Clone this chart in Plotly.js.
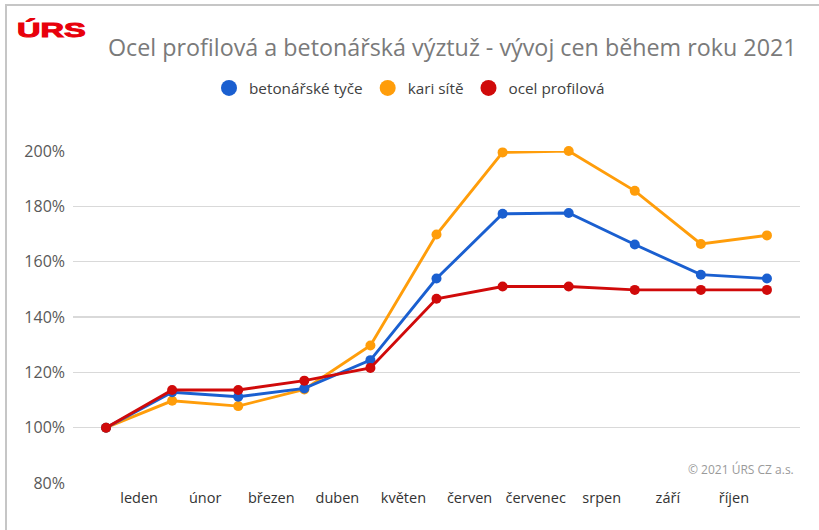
<!DOCTYPE html>
<html>
<head>
<meta charset="utf-8">
<script src="https://cdn.plot.ly/plotly-3.0.1.min.js"></script>
<style>
html,body{margin:0;padding:0;background:#fff;}
#wrap{position:relative;width:819px;height:530px;overflow:hidden;background:#fff;}
#frame{position:absolute;left:5px;top:4px;width:830px;height:540px;border-left:2px solid #c6c6c6;border-top:2px solid #c6c6c6;}
#chart{position:absolute;left:0;top:0;width:819px;height:530px;}
#logo{position:absolute;left:17px;top:18px;font-family:"Liberation Sans",Arial,sans-serif;font-weight:bold;font-size:21px;line-height:24px;color:#e8000b;transform-origin:0 0;transform:scaleX(1.55);z-index:2;-webkit-text-stroke:1px #e8000b;}
</style>
</head>
<body>
<div id="wrap"><div id="frame"></div><div id="chart"></div><div id="logo">ÚRS</div></div>
<script>
// point positions (month boundaries) and month labels
const points = [0, 1, 2, 3, 4, 5, 6, 7, 8, 9, 10];
const months = ["leden", "únor", "březen", "duben", "květen", "červen", "červenec", "srpen", "září", "říjen"];
const monthPos = [0.5, 1.5, 2.5, 3.5, 4.5, 5.5, 6.5, 7.5, 8.5, 9.5];

const seriesNames = ["betonářské tyče", "kari sítě", "ocel profilová"];
const betonarskeTyce = [100, 112.8, 111.2, 114.2, 124.4, 153.9, 177.3, 177.6, 166.2, 155.3, 153.9];
const kariSite      = [100, 109.7, 107.8, 113.8, 129.7, 169.8, 199.5, 200.0, 185.6, 166.4, 169.5];
const ocelProfilova = [100, 113.6, 113.6, 117.0, 121.6, 146.6, 151.0, 151.0, 149.8, 149.8, 149.8];

const yTicks = [80, 100, 120, 140, 160, 180, 200];
const yTickText = ["80%", "100%", "120%", "140%", "160%", "180%", "200%"];

const colors = ["#1a5fd0", "#ff9d0a", "#d00a0a"];
const seriesData = [betonarskeTyce, kariSite, ocelProfilova];

const traces = [];
// draw in order: orange, blue, red (red on top)
[1, 0, 2].forEach(i => {
  traces.push({
    x: points, y: seriesData[i], type: "scatter", mode: "lines+markers",
    name: seriesNames[i], showlegend: false,
    line: {color: colors[i], width: 2.9},
    marker: {color: colors[i], size: 10},
    cliponaxis: false, hoverinfo: "skip"
  });
});
// legend entries (circle only)
[0, 1, 2].forEach(i => {
  traces.push({
    x: [null], y: [null], type: "scatter", mode: "markers",
    name: seriesNames[i], showlegend: true,
    marker: {color: colors[i], size: 16}
  });
});

const layout = {
  width: 819, height: 530,
  paper_bgcolor: "rgba(0,0,0,0)", plot_bgcolor: "rgba(0,0,0,0)",
  margin: {l: 73, r: 19, t: 151, b: 47},
  font: {family: "Open Sans, sans-serif", color: "#404040"},
  showlegend: true,
  legend: {
    orientation: "h", x: 0.5, xanchor: "center", xref: "container",
    y: 442/530, yanchor: "middle", yref: "container",
    font: {size: 15.3, color: "#404040", family: "Open Sans, sans-serif"},
    itemwidth: 30, traceorder: "normal", bgcolor: "rgba(0,0,0,0)",
    itemclick: false
  },
  xaxis: {
    range: [-0.5, 10.5], tickvals: monthPos, ticktext: months,
    showgrid: false, zeroline: false, showline: false, ticks: "",
    ticklabelstandoff: 4,
    tickfont: {size: 14.5, color: "#333333"}, fixedrange: true
  },
  yaxis: {
    range: [80, 200], tickvals: yTicks, ticktext: yTickText,
    showgrid: true, gridcolor: "#d9d9d9", gridwidth: 1.3, zeroline: false, showline: false,
    ticks: "", ticklabelstandoff: 7,
    tickfont: {size: 16, color: "#595959"}, fixedrange: true
  },
  annotations: [
    {text: "Ocel profilová a betonářská výztuž - vývoj cen během roku 2021", xref: "paper", yref: "paper",
     x: 0.0455, y: 1.312, xanchor: "left", yanchor: "middle", showarrow: false,
     font: {family: "Open Sans, sans-serif", size: 23.3, color: "#7a7a7a"}},
    {text: "© 2021 ÚRS CZ a.s.", xref: "paper", yref: "paper", x: 0.9945, y: 0.040, xanchor: "right", yanchor: "middle",
     showarrow: false, font: {family: "Open Sans, sans-serif", size: 12, color: "#9a9a9a"}}
  ]
};

Plotly.newPlot("chart", traces, layout, {displayModeBar: false, staticPlot: true});
</script>
</body>
</html>
